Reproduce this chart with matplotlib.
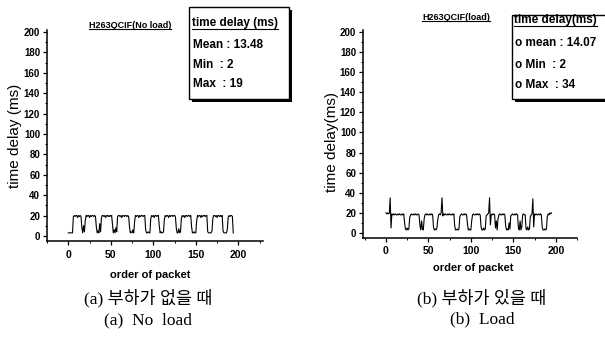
import matplotlib
matplotlib.use("Agg")
import matplotlib.pyplot as plt
from matplotlib.lines import Line2D
from matplotlib.patches import Rectangle
from matplotlib.ticker import MultipleLocator

W, H = 605, 338

# packet delay (ms), H.263 QCIF stream without background load
delay_no_load = [
    3, 3, 3, 3, 3, 3,
    19, 20, 19, 20, 20, 18, 20, 19, 20, 19,
    8, 3, 10, 4, 15,
    20, 19, 20, 20, 18, 20, 19, 20, 20, 19, 20, 19,
    9, 3, 5, 3, 12, 4,
    18, 20, 20, 19, 20, 18, 20, 20, 19, 20, 19, 20, 20,
    12, 3, 6, 3, 8, 4,
    19, 20, 20, 19, 20, 18, 20, 20, 19, 20, 20, 19, 20, 19,
    9, 3, 4, 3, 6, 3, 14,
    20, 19, 20, 20, 18, 20, 19, 20, 20, 19, 20, 20,
    6, 3, 3, 4, 3, 3,
    17, 20, 19, 20, 18, 20, 20, 19, 20, 20,
    10, 3, 4, 3, 3, 4, 16,
    20, 19, 20, 20, 18, 20, 19, 20, 20, 19, 20, 20, 19,
    8, 3, 3, 7, 3, 4,
    17, 20, 19, 20, 18, 20, 20, 19, 20, 20, 19, 20,
    9, 3, 3, 4, 3, 3,
    15, 20, 19, 20, 20, 18, 20, 19, 20, 20, 19, 20, 20,
    4, 3, 3, 3, 3, 5,
    17, 20, 20, 19, 20, 18, 20, 20, 19, 20, 19, 20,
    5, 3, 3, 3, 3, 6,
    18, 20, 19, 20, 20, 19,
    3,
]

# packet delay (ms), same stream with background load
delay_load = [
    20, 19, 20, 19, 20, 35, 5,
    19, 18, 19, 18, 19, 18, 18, 19, 18, 19, 18, 18, 19, 18, 19,
    10, 4, 3, 5, 3, 4, 15,
    18, 19, 18, 18, 19, 18, 19, 18, 18, 19, 18,
    8, 3, 12, 4, 3, 14,
    18, 19, 18, 19, 18, 18, 19, 18, 19, 18,
    6, 3, 4, 3, 5, 13,
    18, 19, 18, 20, 35, 17,
    19, 18, 19, 18, 18, 19, 18, 19, 18, 18, 19, 18, 19,
    7, 3, 3, 4, 3, 4,
    16, 18, 19, 18, 18, 19, 18, 19, 18,
    9, 3, 4, 3, 3, 12,
    18, 19, 18, 18, 19, 18, 19, 18, 19, 18,
    6, 3, 3, 5, 3, 4,
    17, 18, 19, 20, 35, 8,
    18, 19, 18, 19, 18,
    5, 12, 3, 14,
    18, 19, 18, 18, 19, 18, 19, 18,
    7, 3, 4, 3, 10, 4,
    17, 18, 19, 18, 18, 19, 18, 19, 18,
    5, 3, 12, 3, 6,
    18, 19, 18, 18,
    4, 3, 6, 3, 4,
    16, 18, 19, 34, 6,
    19, 18, 19, 18, 18, 19, 18, 19, 18,
    6, 3, 3, 4, 3, 4,
    16, 19, 18, 20, 19, 20,
]

titles = ["H263QCIF(No load)", "H263QCIF(load)"]
ylabels = ["time delay (ms)", "time delay(ms)"]
stat_titles = ["time delay (ms)", "time delay(ms)"]
stat_lines = [
    ["Mean : 13.48", "Min  : 2", "Max  : 19"],
    ["o mean : 14.07", "o Min  : 2", "o Max  : 34"],
]
captions_ko = ["(a) 부하가 없을 때", "(b) 부하가 있을 때"]
captions_en = ["(a)  No  load", "(b)  Load"]

SANS = ["Liberation Sans", "DejaVu Sans"]
SERIF = ["Liberation Serif", "Noto Sans CJK KR"]


def fp(x, y):
    """pixel position (top-left origin) -> figure fraction"""
    return x / W, 1 - y / H


fig = plt.figure(figsize=(W / 100, H / 100), dpi=100)

panels = [
    dict(data=delay_no_load, rect=(47, 241, 263, 30), xlim=(-25, 229), ylim=(-5, 202),
         title=(130, 25), ylab=(15, 136), xlab=(150, 275), xpad=3.5,
         box=(189, 7, 100, 92), stat_x=192, stat_y=(23, 45, 65, 84),
         cap=(148, 298, 320)),
    dict(data=delay_load, rect=(363, 238, 577, 30), xlim=(-27, 225), ylim=(-5, 202),
         title=(456, 17), ylab=(332, 142), xlab=(473, 268), xpad=2.5,
         box=(512, 15, 95, 84), stat_x=514, stat_y=(20, 43, 65, 85),
         cap=(482, 298, 319)),
]

underlined = []

for i, p in enumerate(panels):
    x0, yb, x1, yt = p["rect"]
    left, bottom = fp(x0, yb)
    right, top = fp(x1, yt)
    ax = fig.add_axes([left, bottom, right - left, top - bottom])
    ax.plot(range(len(p["data"])), p["data"], color="black", lw=0.8)
    ax.set_xlim(*p["xlim"])
    ax.set_ylim(*p["ylim"])
    ax.set_facecolor("none")
    for s in ("top", "right"):
        ax.spines[s].set_visible(False)
    for s in ("left", "bottom"):
        ax.spines[s].set_linewidth(1.1)
    ax.set_xticks([0, 50, 100, 150, 200])
    ax.set_yticks(range(0, 201, 20))
    ax.xaxis.set_minor_locator(MultipleLocator(25))
    ax.yaxis.set_minor_locator(MultipleLocator(10))
    ax.tick_params(which="major", direction="out", length=3, width=0.9)
    ax.tick_params(which="minor", direction="out", length=1.5, width=0.7)
    ax.tick_params(axis="x", labelsize=7.5, pad=p["xpad"])
    ax.tick_params(axis="y", labelsize=7, pad=2)
    for lab in ax.get_xticklabels() + ax.get_yticklabels():
        lab.set_fontweight("bold")
        lab.set_family(SANS)

    t = fig.text(*fp(*p["title"]), titles[i], ha="center", va="center",
                 fontsize=6.5, fontweight="bold", family=SANS)
    underlined.append(t)

    fig.text(*fp(*p["ylab"]), ylabels[i], rotation=90, ha="center", va="center",
             fontsize=11, family=SANS)
    fig.text(*fp(*p["xlab"]), "order of packet", ha="center", va="center",
             fontsize=8, fontweight="bold", family=SANS)

    # stats box with a heavy drop shadow
    bx, by, bw, bh = p["box"]
    sx, sy = fp(bx + 3, by + bh + 3)
    fig.add_artist(Rectangle((sx, sy), bw / W, bh / H, transform=fig.transFigure,
                             facecolor="black", edgecolor="none"))
    rx, ry = fp(bx, by + bh)
    fig.add_artist(Rectangle((rx, ry), bw / W, bh / H, transform=fig.transFigure,
                             facecolor="white", edgecolor="black", lw=1.0))
    t = fig.text(*fp(p["stat_x"], p["stat_y"][0]), stat_titles[i], ha="left",
                 va="center", fontsize=8.5, fontweight="bold", family=SANS)
    underlined.append(t)
    for line, ly in zip(stat_lines[i], p["stat_y"][1:]):
        fig.text(*fp(p["stat_x"] + 1, ly), line, ha="left", va="center",
                 fontsize=8.5, fontweight="bold", family=SANS)

    cx, cy1, cy2 = p["cap"]
    fig.text(*fp(cx, cy1), captions_ko[i], ha="center", va="center",
             fontsize=12.5, family=SERIF)
    fig.text(*fp(cx, cy2), captions_en[i], ha="center", va="center",
             fontsize=12.5, family=SERIF)

# underline the panel titles and box headings
fig.canvas.draw()
renderer = fig.canvas.get_renderer()
for t in underlined:
    bb = t.get_window_extent(renderer)
    y = bb.y0 + 0.5
    fig.add_artist(Line2D([bb.x0, bb.x1], [y, y], transform=None,
                          color="black", lw=0.8))

fig.savefig("out.png", dpi=100)
